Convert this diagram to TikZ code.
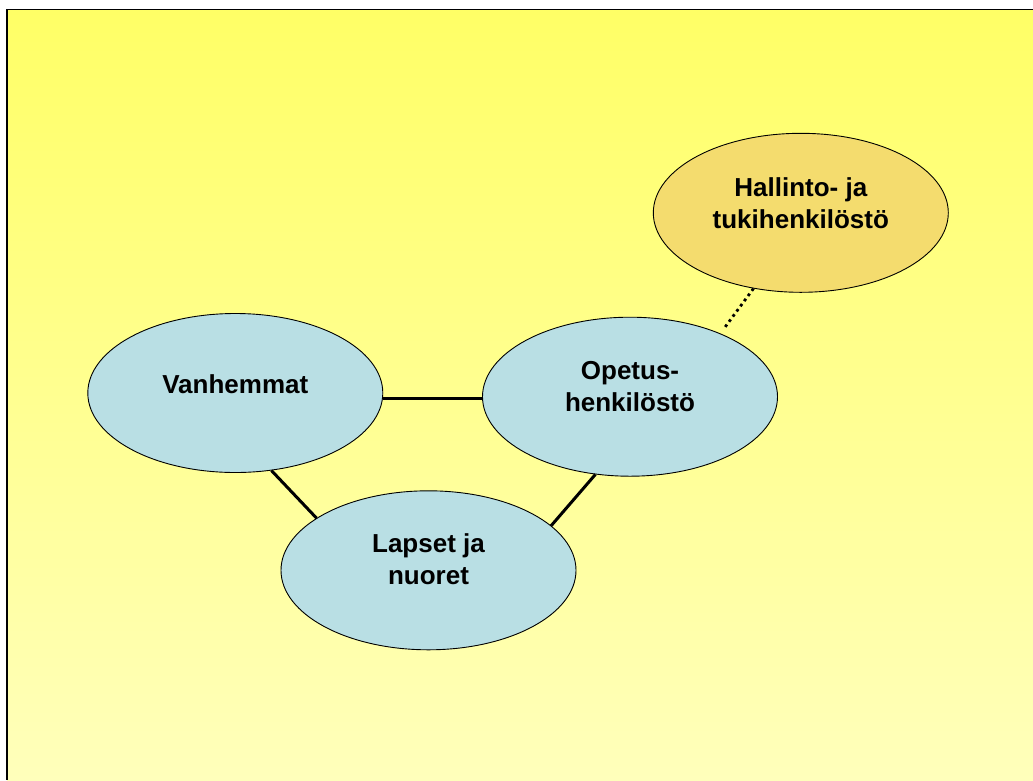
\documentclass[tikz,border=0pt]{standalone}
\usepackage{fontspec}
\setmainfont{Liberation Sans}
\usetikzlibrary{shapes.geometric}
\definecolor{bgtop}{HTML}{FFFF66}
\definecolor{bgbot}{HTML}{FFFFBB}
\definecolor{ellblue}{HTML}{B9DFE4}
\definecolor{ellgold}{HTML}{F4DC6E}
\begin{document}
\begin{tikzpicture}[x=1pt,y=-1pt,
  bubble/.style={ellipse,draw=black,line width=0.9pt,minimum width=295pt,
    minimum height=159pt,inner sep=0pt,fill=ellblue},
  caption/.style={align=center,font=\fontsize{26}{32}\selectfont\bfseries,inner sep=0pt},
  link/.style={line width=3pt},
  dotlink/.style={line width=2.8pt,dash pattern=on 2.8pt off 3.6pt}]
\useasboundingbox (0,0) rectangle (1033,780);
% slide background with gradient and frame
\fill[white] (0,0) rectangle (1033,780);
\shade[top color=bgtop,bottom color=bgbot] (7,10) rectangle (1033,780);
\draw[line width=1.8pt] (7,780) -- (7,9.5) -- (1033,9.5);

% groups
\node[bubble] (V) at (235.3,393) {};
\node[bubble] (O) at (630,396.7) {};
\node[bubble] (L) at (428.5,570.3) {};
\node[bubble,fill=ellgold] (H) at (800.8,212.8) {};

% connections
\draw[link] (V.-2) -- (V.-2 -| O.west);
\draw[link] (V.-65.8) -- (L.155.4);
\draw[link] (L.20.4) -- (O.246.8);
\draw[dotlink,shorten >=7pt] (H.238.1) -- (O.35);

% captions
\node[caption] (Vt) at ([yshift=8.5pt]V.center) {Vanhemmat};
\node[caption] (Ot) at ([yshift=10.5pt]O.center) {Opetus-\\henkilöstö};
\node[caption] (Lt) at ([yshift=11pt]L.center) {Lapset ja\\nuoret};
\node[caption] (Ht) at ([yshift=10pt]H.center) {Hallinto- ja\\tukihenkilöstö};
\end{tikzpicture}
\end{document}
